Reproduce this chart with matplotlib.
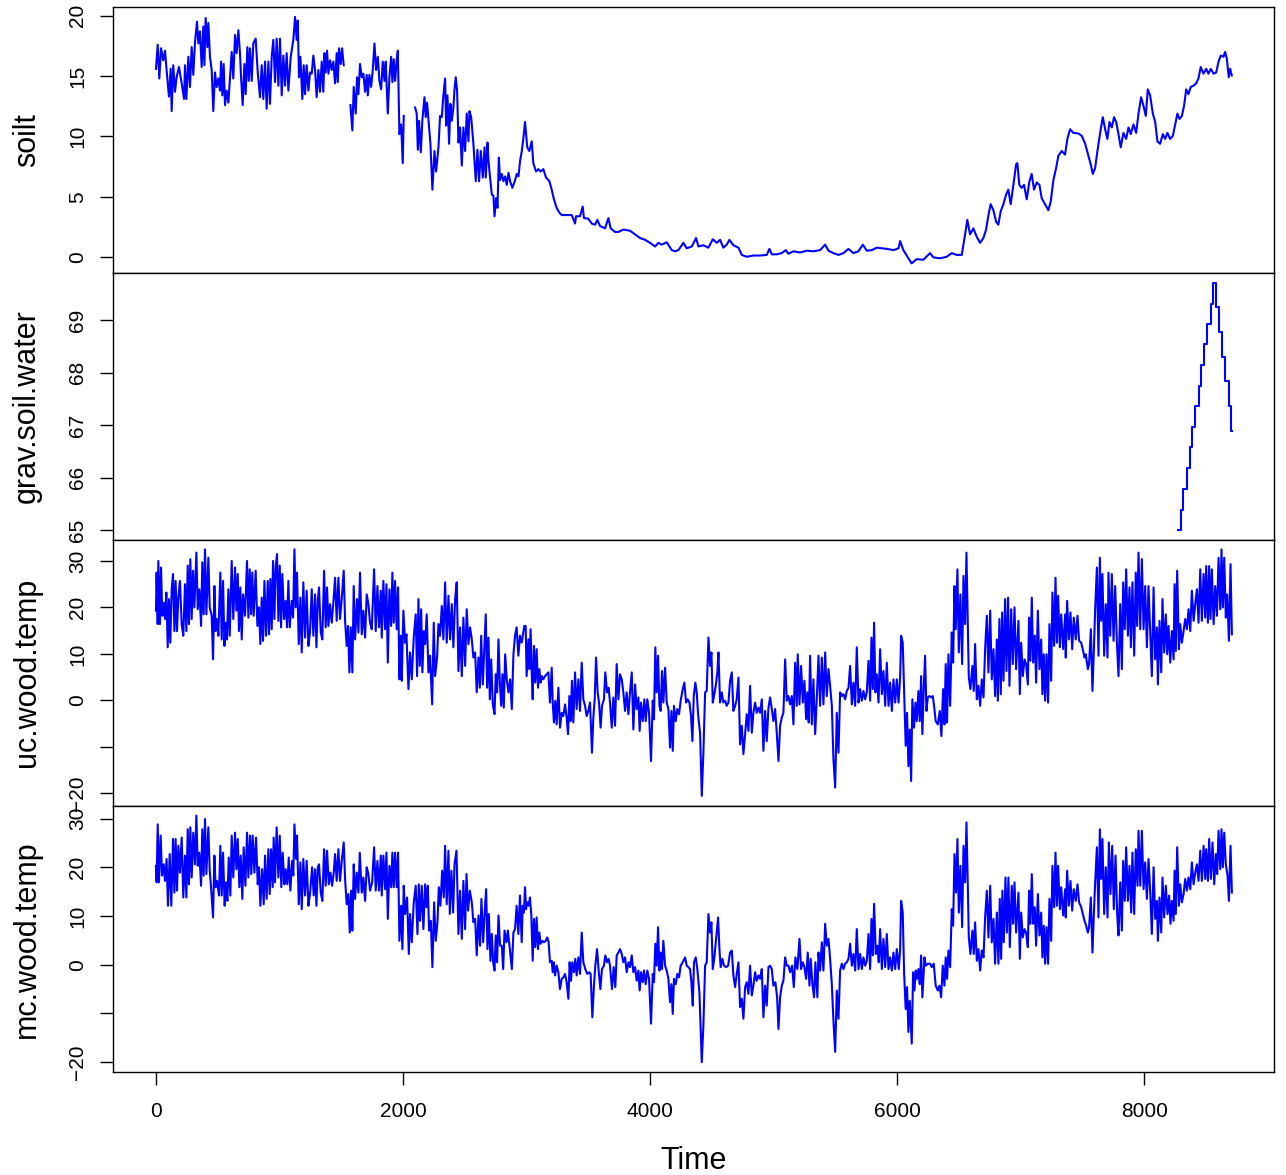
import numpy as np
import matplotlib
matplotlib.use("Agg")
import matplotlib.pyplot as plt

plt.rcParams["font.family"] = ["Liberation Sans", "DejaVu Sans"]

NA = np.nan

# ---------------------------------------------------------------------------
# Dados: (hora, valor)
# ---------------------------------------------------------------------------

soilt = [
    (0, 15.6), (14, 17.6), (27, 14.8), (41, 17.3), (59, 16.3), (73, 17.1), (86, 15.5), (105, 13.3),
    (119, 15.6), (127, 12.1), (140, 15.9), (154, 13.7), (167, 14.9), (186, 15.75), (208, 14.4),
    (227, 13.1), (235, 15.9), (246, 13.1), (262, 16.6), (275, 14.1), (289, 17.4), (302, 15.1),
    (316, 17.8), (332, 19.5), (343, 17.7), (356, 18.7), (370, 15.75), (383, 19.1), (392, 15.9),
    (402, 19.8), (416, 17.4), (424, 19.4), (437, 16.6), (451, 15.5), (464, 12.1), (478, 15.3),
    (491, 14.1), (505, 14.8), (518, 13.8), (527, 16.2), (537, 13.4), (548, 16.0), (559, 12.6),
    (572, 13.8), (586, 12.8), (599, 14.8), (613, 17.0), (626, 14.8), (640, 18.4), (653, 16.9),
    (667, 18.8), (680, 16.9), (689, 14.9), (702, 12.6), (716, 16.0), (726, 13.5), (740, 17.4),
    (751, 14.6), (761, 17.3), (775, 14.6), (788, 17.7), (807, 18.1), (824, 15.3), (842, 13.25),
    (856, 15.9), (869, 13.1), (883, 16.2), (896, 12.3), (910, 16.2), (923, 12.7), (937, 16.6),
    (950, 18.0), (964, 14.5), (977, 18.1), (991, 14.2), (1004, 18.1), (1018, 13.4), (1031, 16.7),
    (1045, 14.2), (1058, 16.9), (1072, 13.8), (1091, 16.6), (1112, 18.0), (1126, 19.9), (1139, 18.0),
    (1148, 19.6), (1158, 14.9), (1169, 16.6), (1185, 13.1), (1196, 15.9), (1207, 13.5), (1220, 15.9),
    (1234, 13.8), (1247, 15.3), (1261, 15.2), (1274, 16.7), (1288, 15.5), (1301, 13.25), (1315, 15.5),
    (1328, 13.7), (1342, 16.2), (1355, 13.7), (1364, 16.9), (1374, 15.3), (1385, 17.1), (1396, 15.2),
    (1409, 16.3), (1423, 15.5), (1436, 16.2), (1450, 14.4), (1463, 16.9), (1472, 14.5), (1482, 17.3),
    (1496, 16.0), (1507, 17.3), (1520, 15.9),
    (1547, NA),
    (1574, 12.6), (1590, 10.5), (1601, 14.1), (1617, 11.9), (1628, 14.9), (1639, 13.5), (1652, 16.0),
    (1666, 14.9), (1679, 15.2), (1693, 13.7), (1706, 15.1), (1715, 13.4), (1728, 15.1), (1742, 14.1),
    (1755, 15.5), (1769, 17.7), (1782, 15.5), (1796, 16.6), (1809, 14.6), (1823, 13.9), (1836, 16.2),
    (1850, 14.6), (1860, 16.2), (1877, 11.9), (1890, 14.9), (1904, 16.6), (1914, 14.5), (1925, 16.4),
    (1936, 14.6), (1949, 16.3), (1958, 17.1), (1971, 10.2), (1985, 11.0), (1998, 7.8), (2006, 11.7),
    (2050, NA),
    (2098, 12.4), (2111, 11.9), (2120, 8.9), (2130, 11.3), (2144, 8.7), (2157, 11.4), (2174, 13.25),
    (2184, 11.6), (2195, 12.8), (2206, 11.4), (2222, 9.4), (2238, 5.6), (2255, 8.8), (2268, 7.1),
    (2287, 9.1), (2300, 11.7), (2314, 11.6), (2327, 13.4), (2341, 14.8), (2349, 10.9), (2360, 13.4),
    (2373, 9.4), (2384, 12.7), (2395, 11.3), (2408, 12.4), (2417, 13.9), (2427, 14.9), (2438, 13.8),
    (2449, 9.5), (2462, 10.75), (2476, 7.6), (2489, 10.75), (2503, 8.8), (2516, 11.9), (2530, 9.6),
    (2538, 12.1), (2552, 11.6), (2570, 9.4), (2589, 6.3), (2603, 8.9), (2616, 6.3), (2630, 8.8),
    (2646, 6.6), (2660, 9.1), (2670, 6.6), (2684, 9.5), (2692, 8.0), (2705, 6.6), (2719, 5.2),
    (2732, 5.1), (2741, 3.4), (2754, 4.9), (2765, 4.1), (2776, 8.25), (2786, 6.4), (2800, 6.9),
    (2813, 6.3), (2827, 6.7), (2840, 6.0), (2854, 7.0), (2867, 6.3), (2886, 5.75), (2908, 6.4),
    (2921, 6.9), (2935, 6.7), (2948, 8.0), (2962, 8.8), (2975, 9.9),
    (2988, 11.2), (3006, 9.1), (3023, 8.8), (3042, 9.6), (3055, 7.8), (3077, 7.1), (3096, 7.3),
    (3114, 7.1), (3136, 7.3), (3158, 6.6), (3185, 6.3), (3204, 5.6), (3222, 4.8), (3244, 4.1),
    (3266, 3.7), (3285, 3.5), (3325, 3.5), (3366, 3.5), (3393, 2.8), (3401, 3.4), (3433, 3.4),
    (3455, 4.2), (3465, 3.25), (3500, 3.2), (3528, 2.8), (3555, 2.7), (3573, 3.1), (3595, 2.6),
    (3636, 2.4), (3663, 3.25), (3681, 2.4), (3717, 2.1), (3744, 2.1), (3784, 2.3), (3838, 2.2),
    (3879, 1.9), (3919, 1.6), (3960, 1.45), (4000, 1.2), (4041, 0.9), (4068, 1.2), (4095, 1.05),
    (4135, 1.25), (4176, 0.6), (4203, 0.5), (4230, 0.6), (4270, 1.2), (4297, 0.75), (4338, 0.9),
    (4373, 1.6), (4392, 0.9), (4432, 1.0), (4473, 0.8), (4508, 1.5), (4540, 1.2), (4567, 1.45),
    (4594, 0.8), (4621, 1.05), (4643, 1.45), (4675, 1.0), (4716, 0.8), (4743, 0.2), (4783, 0.05),
    (4837, 0.15), (4891, 0.15), (4945, 0.2), (4967, 0.7), (4986, 0.25), (5026, 0.25), (5066, 0.35),
    (5099, 0.6), (5120, 0.3), (5161, 0.5), (5215, 0.4), (5269, 0.55), (5323, 0.5), (5377, 0.6),
    (5418, 1.05), (5445, 0.55), (5485, 0.35), (5526, 0.2), (5566, 0.35), (5606, 0.7), (5647, 0.35),
    (5687, 0.5), (5723, 1.05), (5755, 0.55), (5796, 0.6), (5836, 0.8), (5877, 0.75), (5917, 0.7),
    (5971, 0.6), (6012, 0.75), (6025, 1.35),
    (6051, 0.6), (6092, -0.08), (6118, -0.5), (6159, -0.15), (6213, -0.2), (6267, 0.35), (6294, 0.0),
    (6348, -0.08), (6402, 0.05), (6443, 0.35), (6483, 0.2), (6524, 0.2), (6551, 1.9), (6569, 3.1),
    (6591, 1.9), (6618, 2.4), (6645, 1.7), (6672, 1.2), (6699, 1.6), (6721, 2.3), (6740, 3.5),
    (6758, 4.4), (6780, 3.9), (6802, 2.95), (6820, 2.7), (6839, 3.8), (6861, 4.4), (6883, 5.2),
    (6901, 5.6), (6920, 4.4), (6942, 6.0), (6964, 7.7), (6974, 7.8), (6990, 6.0), (7009, 5.75),
    (7028, 6.0), (7050, 4.8), (7072, 6.3), (7090, 6.9), (7109, 5.6), (7131, 6.2), (7153, 6.0),
    (7171, 4.9), (7198, 4.4), (7225, 3.9), (7244, 4.6), (7266, 6.4), (7288, 7.4), (7306, 8.4),
    (7333, 8.8), (7360, 8.5), (7379, 9.8), (7401, 10.6), (7428, 10.3), (7468, 10.25), (7496, 10.05),
    (7523, 9.4), (7550, 8.4), (7568, 7.7), (7585, 6.9), (7604, 7.4), (7617, 8.4), (7631, 9.4),
    (7649, 10.6), (7666, 11.6), (7685, 10.6), (7703, 9.8), (7720, 11.2), (7739, 10.75), (7757, 11.6),
    (7774, 11.2), (7793, 10.2), (7811, 9.1), (7833, 10.3), (7855, 9.8), (7874, 10.75), (7892, 10.2),
    (7914, 11.0), (7936, 10.3), (7955, 11.9), (7976, 13.25), (7995, 12.55), (8014, 11.7), (8030, 13.9),
    (8049, 13.4), (8071, 11.9), (8090, 11.2), (8108, 9.6), (8130, 9.4), (8152, 10.2), (8171, 9.8),
    (8189, 10.3), (8211, 9.8), (8233, 10.05), (8252, 11.0), (8270, 11.9), (8287, 11.45), (8306, 11.7),
    (8324, 12.55), (8341, 13.9), (8359, 13.5), (8378, 14.1), (8400, 14.2), (8422, 14.4), (8440, 14.8),
    (8459, 15.75), (8481, 15.2), (8503, 15.6), (8521, 15.2), (8540, 15.6), (8562, 15.2), (8584, 15.3),
    (8603, 16.2), (8621, 16.7), (8643, 16.6), (8656, 17.0), (8670, 16.45), (8686, 14.9), (8697, 15.6),
    (8710, 15.05),
]

# água gravimétrica: só medida no fim (degraus diários)
grav_time = [8278, 8297, 8319, 8346, 8368, 8392, 8416, 8441, 8465, 8486, 8513, 8538, 8557,
             8584, 8608, 8632, 8657, 8684, 8705, 8711]
grav_value = [65.01, 65.39, 65.79, 66.18, 66.59, 66.97, 67.36, 67.74, 68.14, 68.55, 68.93, 69.32,
              69.71, 69.26, 68.77, 68.30, 67.84, 67.36, 66.89, 66.89]

uc_wood = [
    (0, 19.3), (5, 27.5), (14, 16.4), (19, 30.0), (32, 16.4), (41, 28.6), (51, 18.2), (62, 21.0),
    (73, 17.5), (84, 23.2), (95, 11.4), (105, 21.8), (116, 12.4), (127, 23.9), (138, 27.2), (149, 14.9),
    (159, 25.7), (170, 14.9), (181, 22.1), (194, 25.7), (208, 16.4), (221, 13.9), (235, 25.0), (246, 14.9),
    (257, 29.0), (267, 16.4), (278, 30.4), (289, 17.5), (300, 27.9), (311, 20.0), (327, 31.8), (338, 19.6),
    (351, 23.9), (365, 16.0), (375, 29.7), (386, 18.5), (397, 32.5), (408, 18.5), (424, 30.7), (435, 20.0),
    (451, 18.2), (462, 8.8), (473, 24.6), (483, 14.9), (494, 17.5), (505, 13.9), (521, 27.5), (532, 13.1),
    (543, 25.7), (554, 11.7), (564, 16.7), (575, 13.1), (586, 23.9), (597, 13.9), (613, 30.0), (626, 17.5),
    (640, 28.6), (651, 19.3), (662, 27.2), (672, 14.9), (683, 24.3), (694, 13.1), (705, 22.8), (721, 18.2),
    (737, 30.0), (748, 17.8), (759, 28.2), (770, 18.5), (780, 27.5), (791, 18.2), (807, 27.9), (821, 16.0),
    (834, 20.0), (845, 12.1), (856, 22.1), (867, 12.8), (878, 25.7), (891, 13.9), (905, 25.7), (915, 14.2),
    (926, 26.1), (937, 15.3), (948, 30.0), (959, 17.5), (969, 28.6), (980, 31.5), (991, 17.1), (1002, 29.0),
    (1013, 15.7), (1023, 27.2), (1037, 17.5), (1050, 21.4), (1061, 15.7), (1072, 25.7), (1083, 15.7),
    (1099, 21.4), (1110, 17.8), (1121, 32.5), (1131, 20.0), (1142, 27.5), (1156, 12.1), (1169, 22.1),
    (1180, 10.3), (1193, 25.4), (1207, 13.5), (1220, 23.6), (1234, 11.7), (1247, 14.6), (1261, 23.9),
    (1274, 13.9), (1288, 22.8), (1299, 11.4), (1310, 21.4), (1320, 24.3), (1334, 14.6), (1347, 13.1),
    (1361, 27.9), (1374, 15.7), (1385, 24.3), (1396, 16.0), (1409, 20.7), (1423, 16.7), (1436, 21.0),
    (1450, 26.4), (1463, 17.1), (1477, 26.4), (1490, 17.5), (1504, 21.8), (1520, 27.9), (1531, 17.1),
    (1544, 11.7), (1555, 16.0), (1566, 6.0), (1577, 15.7), (1590, 6.0), (1601, 24.6), (1612, 13.1),
    (1628, 21.8), (1639, 14.6), (1652, 27.5), (1666, 14.2), (1679, 19.3), (1693, 13.5), (1706, 22.8),
    (1720, 20.7), (1733, 16.7), (1747, 15.3), (1766, 28.2), (1779, 14.9), (1793, 24.6), (1806, 15.7),
    (1820, 23.6), (1828, 13.5), (1841, 25.7), (1855, 15.3), (1866, 25.0), (1877, 8.1), (1890, 23.9),
    (1904, 16.0), (1914, 27.5), (1925, 16.7), (1936, 25.7), (1949, 15.3), (1960, 24.3), (1971, 4.5),
    (1982, 13.9), (1990, 4.2), (2003, 19.3), (2017, 12.4), (2028, 14.2), (2044, 2.4), (2057, 10.3),
    (2071, 4.5), (2087, 13.5), (2103, 18.5), (2114, 5.2), (2125, 21.8), (2136, 7.4), (2147, 19.6),
    (2157, 6.0), (2168, 14.9), (2179, 12.1), (2192, 18.5), (2206, 6.0), (2219, 9.6), (2236, -0.9),
    (2249, 16.7), (2260, 5.2), (2276, 9.2), (2287, 16.4), (2300, 13.9), (2314, 20.3), (2327, 13.1),
    (2341, 25.4), (2354, 12.4), (2368, 22.5), (2381, 13.1), (2395, 20.7), (2408, 11.4), (2422, 21.8),
    (2435, 25.4), (2449, 6.3), (2462, 15.7), (2476, 5.2), (2489, 17.8), (2503, 7.4), (2516, 19.6),
    (2530, 12.1), (2543, 15.7), (2557, 13.1), (2570, 9.2), (2584, 10.3), (2597, 1.7), (2611, 9.2),
    (2622, 2.7), (2633, 13.9), (2646, 3.4), (2657, 10.3), (2670, 18.5), (2681, 2.7), (2692, 13.5),
    (2703, 0.2), (2714, 8.8), (2727, -0.9), (2741, -3.0), (2751, 5.6), (2762, 1.7), (2773, 13.1),
    (2784, 3.8), (2795, -1.2), (2805, 5.6), (2816, -1.6), (2827, 9.9), (2840, 4.5), (2854, 1.7),
    (2867, 4.5), (2881, -1.9), (2894, 9.9),
    (2907, 13.9), (2920, 15.7), (2934, 9.6), (2947, 13.9), (2961, 12.4), (2974, 14.6), (2982, 16.0),
    (2993, 16.0), (3001, 5.2), (3015, 13.1), (3023, 6.7), (3033, 15.3), (3042, 6.0), (3050, 0.2),
    (3060, 11.7), (3071, 3.8), (3082, 11.0), (3093, 2.7), (3104, 6.7), (3114, 3.8), (3125, 5.2),
    (3136, 4.5), (3150, 5.2), (3163, 5.6), (3177, 6.0), (3190, -0.5), (3204, 7.0), (3212, -0.5),
    (3222, -4.8), (3233, -0.1), (3244, -5.2), (3258, 2.7), (3271, -5.9), (3285, -2.7), (3298, -3.4),
    (3312, -0.9), (3325, -3.7), (3336, -7.3), (3347, 0.9), (3357, -4.5), (3368, 4.2), (3379, -4.8),
    (3393, 6.0), (3406, -1.9), (3420, 4.5), (3433, -2.3), (3447, 8.1), (3460, 0.2), (3474, -1.2),
    (3487, -3.4), (3501, -2.3), (3514, -0.5), (3530, -11.3), (3541, -3.7), (3552, 0.2), (3563, 9.2),
    (3576, 1.7), (3587, -0.5), (3600, -5.9), (3611, -1.2), (3627, 0.2), (3638, 6.0), (3652, 1.7),
    (3665, 2.7), (3676, -0.5), (3690, -5.9), (3703, 0.6), (3717, -5.5), (3730, 7.8), (3744, 0.2),
    (3757, 5.6), (3771, 4.5), (3784, 1.7), (3798, -2.3), (3811, 1.7), (3825, -3.0), (3838, 1.7),
    (3852, 6.0), (3865, -6.3), (3879, 3.4), (3892, -1.9), (3906, 0.6), (3916, -6.6), (3927, -0.5),
    (3941, -4.5), (3954, 0.2), (3965, -4.5), (3978, 0.2), (3992, -2.7), (4008, -13.1), (4022, -0.1),
    (4032, -4.1), (4043, 11.4), (4054, 1.7), (4065, 9.6), (4076, -1.2), (4086, -2.3), (4097, 6.3),
    (4108, -0.5), (4122, 7.0), (4135, -0.5), (4149, -1.9), (4162, -10.2), (4173, -2.3), (4184, -10.9),
    (4194, -1.2), (4208, -4.5), (4221, -1.9), (4235, -3.0), (4248, -0.1), (4265, 2.4), (4278, 3.8),
    (4292, -0.5), (4305, 0.2), (4319, -0.5), (4332, -3.4), (4343, -8.8), (4354, 0.9), (4367, 3.8),
    (4378, 1.7), (4389, -3.0), (4405, -7.0), (4419, -20.6), (4432, -11.3), (4446, 1.7), (4459, 2.0),
    (4473, 13.5), (4486, 7.4), (4497, 10.3), (4508, -0.5), (4518, 0.9), (4532, 3.1), (4545, 6.0),
    (4554, 10.3), (4567, -0.5), (4581, 1.7), (4594, -0.5), (4608, -0.1), (4621, -1.2), (4635, -0.5),
    (4648, 4.2), (4662, 6.0), (4675, -2.3), (4689, -1.2), (4702, 0.2), (4716, 4.9), (4729, -9.5),
    (4743, -5.5), (4756, -11.6), (4770, -7.3), (4783, -3.0), (4797, -6.6), (4810, 3.1), (4824, -7.0),
    (4837, -2.7), (4851, -0.5), (4864, -2.7), (4878, -1.6), (4891, -2.7), (4905, 0.2), (4918, -10.9),
    (4932, -2.3), (4945, -8.8), (4959, -1.6), (4972, 0.6), (4986, -1.9), (4999, -4.5), (5013, -1.9),
    (5026, -7.0), (5040, -13.1), (5053, -5.5), (5067, -3.7), (5080, -2.7), (5094, 8.8), (5107, -0.1),
    (5121, 0.9), (5134, -0.9), (5148, 0.9), (5161, -5.2), (5175, 8.1), (5188, -1.2), (5196, 9.9),
    (5210, -0.9), (5223, 7.4), (5237, -0.5), (5250, 4.2), (5264, -4.1), (5274, 1.7), (5285, -4.8),
    (5296, 9.6), (5310, -5.2), (5323, 4.5), (5337, -7.3), (5350, 0.2), (5364, 9.6), (5377, -1.2),
    (5391, 9.2), (5404, -0.9), (5418, 10.3), (5431, 0.9), (5445, 6.7), (5458, 3.1), (5472, -1.2),
    (5485, -12.7), (5499, -18.8), (5512, -2.7), (5526, -11.3), (5539, 1.7), (5553, 0.9), (5566, 1.3),
    (5580, 0.2), (5593, 2.0), (5607, 2.7), (5620, 7.4), (5634, -0.9), (5647, 3.8), (5661, -1.2),
    (5674, 11.4), (5688, -0.5), (5701, 2.4), (5715, -0.1), (5728, 2.0), (5742, 0.2), (5755, 1.7),
    (5769, 8.5), (5782, -0.1), (5793, 13.5), (5804, 2.4), (5814, 16.7), (5825, 1.7), (5836, 5.6),
    (5850, -0.5), (5863, 11.0), (5877, 1.3), (5890, 6.3), (5904, -1.2), (5917, 8.1), (5931, -1.2),
    (5944, 3.8), (5958, -2.3), (5971, 4.5), (5985, -0.5), (5998, 4.5), (6012, -0.5), (6025, 4.9),
    (6033, 13.9), (6046, 12.4), (6057, 2.4), (6070, -9.8), (6081, -2.7), (6092, -14.2), (6103, -6.3),
    (6114, -17.4), (6124, 0.2), (6138, -5.9), (6149, -0.5), (6160, -4.5), (6173, 2.0), (6184, -4.5),
    (6195, 5.2), (6205, -7.3), (6216, 2.4), (6227, 9.6), (6238, -2.3), (6249, 0.6), (6262, 0.9),
    (6276, 0.6), (6289, 0.9), (6300, -1.2), (6313, -4.5), (6330, -5.2), (6346, -2.3), (6359, -7.7),
    (6373, 2.4), (6384, -5.2), (6394, 7.8), (6405, -4.8), (6416, 9.9), (6430, -1.2), (6443, 14.6),
    (6454, 8.1), (6465, 24.6), (6475, 15.3), (6489, 28.2), (6500, 10.3), (6513, 22.8), (6527, 7.8),
    (6538, 26.8), (6551, 16.4), (6562, 31.8), (6573, 16.7), (6581, 4.9), (6594, 2.4), (6610, 7.4),
    (6621, 2.0), (6632, 12.1), (6646, 0.2), (6659, 3.1), (6673, -1.2), (6686, 4.5), (6700, 0.6),
    (6713, 11.0), (6727, 18.2), (6740, 6.0), (6754, 19.3), (6767, 4.5), (6781, 11.0), (6794, 0.9),
    (6808, 13.1), (6816, -0.1), (6829, 17.5), (6840, 1.3), (6851, 18.9), (6862, 4.2), (6875, 21.8),
    (6886, 6.3), (6899, 22.1), (6910, 3.1), (6924, 19.6), (6937, 7.8), (6951, 20.0), (6964, 6.7),
    (6983, 17.1), (6994, 1.3), (7005, 12.4), (7018, 5.2), (7032, 8.8), (7045, 7.8), (7059, 3.4),
    (7069, 17.8), (7080, 8.5), (7091, 22.1), (7102, 8.1), (7115, 13.9), (7126, 3.8), (7140, 19.3),
    (7153, 6.7), (7167, 13.1), (7177, 1.3), (7188, 9.9), (7199, -0.1), (7210, 9.9), (7223, -0.5),
    (7234, 16.4), (7248, 4.2), (7258, 23.2), (7272, 11.7), (7283, 26.4), (7294, 12.4), (7304, 22.5),
    (7318, 11.4), (7329, 18.5), (7345, 11.0), (7361, 18.5), (7366, 9.2), (7377, 21.4), (7391, 13.1),
    (7404, 18.9), (7418, 11.0), (7431, 17.8), (7447, 13.1), (7461, 18.2), (7474, 12.8), (7491, 12.4),
    (7507, 10.6), (7518, 9.2), (7528, 9.9), (7545, 6.7), (7555, 7.8), (7569, 15.3), (7582, 2.0),
    (7593, 10.3), (7604, 19.6), (7618, 28.6), (7631, 9.6), (7642, 30.7), (7653, 17.1), (7663, 27.2),
    (7677, 9.6), (7690, 20.7), (7704, 9.2), (7712, 27.5), (7726, 13.9), (7739, 27.2), (7753, 12.8),
    (7766, 24.6), (7780, 12.4), (7793, 5.2), (7807, 20.7), (7820, 6.7), (7831, 25.4), (7844, 15.3),
    (7855, 28.2), (7869, 13.9), (7882, 24.3), (7893, 11.4), (7906, 25.4), (7920, 9.6), (7933, 27.5),
    (7944, 16.0), (7955, 31.8), (7969, 15.3), (7982, 30.4), (7996, 15.3), (8009, 24.6), (8023, 11.4),
    (8036, 24.6), (8050, 14.6), (8063, 5.2), (8077, 24.3), (8090, 8.8), (8104, 15.7), (8112, 3.4),
    (8125, 17.1), (8139, 6.0), (8149, 21.8), (8163, 10.3), (8176, 18.5), (8187, 9.9), (8198, 16.0),
    (8212, 8.1), (8225, 14.9), (8239, 8.8), (8247, 25.0), (8257, 10.6), (8268, 27.9), (8282, 11.0),
    (8293, 16.4), (8306, 12.4), (8320, 14.9), (8333, 17.5), (8347, 15.3), (8360, 19.6), (8374, 14.9),
    (8387, 23.6), (8401, 17.1), (8414, 20.7), (8428, 23.9), (8441, 16.7), (8455, 28.2), (8468, 17.1),
    (8482, 27.2), (8495, 17.8), (8503, 28.9), (8517, 16.7), (8527, 28.9), (8538, 17.5), (8549, 28.2),
    (8563, 16.4), (8576, 24.6), (8590, 18.2), (8603, 30.7), (8617, 19.6), (8627, 32.5), (8638, 20.0),
    (8649, 30.7), (8662, 17.8), (8673, 22.8), (8687, 12.8), (8700, 29.3), (8711, 14.2),
]

mc_wood = [
    (0, 20.3), (5, 16.9), (14, 28.8), (24, 16.9), (38, 26.5), (49, 18.3), (62, 20.6), (73, 17.2),
    (86, 21.7), (97, 12.1), (111, 22.7), (124, 12.1), (138, 25.8), (149, 14.8), (159, 25.8), (170, 15.2),
    (181, 24.4), (194, 18.9), (208, 26.1), (221, 13.8), (235, 22.4), (246, 13.8), (257, 27.8), (267, 16.5),
    (278, 28.2), (289, 17.9), (302, 27.1), (316, 20.6), (327, 30.6), (338, 20.3), (351, 23.0), (365, 16.2),
    (375, 27.8), (386, 18.3), (397, 29.9), (408, 18.6), (424, 28.2), (435, 19.3), (446, 15.9), (462, 9.7),
    (473, 22.4), (483, 15.9), (494, 17.2), (510, 14.2), (521, 24.4), (532, 14.2), (543, 23.0), (556, 12.1),
    (567, 16.9), (578, 13.1), (589, 22.0), (602, 14.2), (613, 26.5), (626, 17.9), (640, 27.1), (651, 19.6),
    (662, 25.8), (675, 15.9), (686, 22.4), (699, 13.5), (710, 24.1), (724, 16.2), (737, 27.1), (748, 17.9),
    (761, 26.5), (772, 18.6), (783, 26.5), (797, 18.9), (810, 26.1), (824, 16.5), (834, 20.0), (845, 12.1),
    (859, 19.6), (872, 12.4), (883, 22.4), (896, 13.5), (910, 23.7), (921, 14.5), (932, 23.7), (945, 15.9),
    (953, 26.1), (964, 16.9), (977, 28.2), (991, 17.9), (1002, 26.5), (1015, 15.9), (1026, 23.0),
    (1040, 16.5), (1050, 19.6), (1064, 16.5), (1075, 22.0), (1088, 15.2), (1102, 21.3), (1112, 18.3),
    (1121, 28.8), (1134, 21.7), (1142, 26.5), (1156, 12.4), (1169, 21.0), (1180, 11.4), (1193, 21.7),
    (1207, 14.2), (1220, 21.3), (1234, 12.1), (1247, 14.5), (1264, 20.0), (1277, 14.2), (1288, 19.6),
    (1299, 12.1), (1310, 20.0), (1320, 20.6), (1334, 14.8), (1347, 13.1), (1361, 23.7), (1374, 16.2),
    (1385, 23.4), (1399, 16.5), (1412, 18.9), (1426, 16.2), (1439, 18.9), (1450, 22.7), (1463, 17.2),
    (1477, 23.7), (1490, 17.2), (1504, 21.3), (1520, 25.1), (1531, 17.6), (1544, 12.4), (1558, 14.5),
    (1569, 6.6), (1580, 15.2), (1590, 7.0), (1601, 20.6), (1612, 13.5), (1625, 18.9), (1639, 14.8),
    (1650, 23.0), (1666, 14.8), (1679, 17.9), (1693, 13.1), (1706, 20.0), (1720, 18.6), (1733, 15.2),
    (1750, 16.9), (1766, 24.1), (1779, 15.2), (1793, 21.3), (1806, 15.2), (1820, 22.4), (1828, 14.2),
    (1841, 22.4), (1855, 15.5), (1866, 23.0), (1877, 9.4), (1890, 20.3), (1904, 15.9), (1914, 23.0),
    (1925, 15.9), (1936, 23.0), (1949, 15.9), (1960, 23.0), (1971, 4.9), (1985, 12.1), (1995, 3.2),
    (2006, 16.2), (2017, 10.4), (2033, 13.8), (2047, 2.2), (2057, 10.4), (2071, 4.6), (2087, 12.8),
    (2103, 16.2), (2117, 6.3), (2128, 16.5), (2138, 9.0), (2152, 16.2), (2165, 7.3), (2179, 16.5),
    (2190, 11.8), (2201, 16.2), (2211, 7.0), (2225, 9.0), (2238, -0.5), (2252, 12.8), (2265, 4.9),
    (2279, 8.7), (2290, 15.9), (2303, 12.1), (2317, 19.3), (2330, 13.8), (2341, 24.4), (2354, 12.4),
    (2368, 23.4), (2379, 10.4), (2392, 19.3), (2406, 10.7), (2417, 20.6), (2433, 23.4), (2449, 6.3),
    (2462, 15.2), (2476, 5.3), (2489, 17.2), (2503, 7.3), (2514, 18.6), (2527, 11.1), (2541, 15.2),
    (2557, 12.8), (2570, 8.7), (2584, 9.4), (2597, 1.9), (2611, 10.1), (2624, 3.9), (2635, 13.5),
    (2649, 4.6), (2660, 10.1), (2673, 15.5), (2684, 3.2), (2695, 10.4), (2708, 0.8), (2719, 6.3),
    (2730, 0.5), (2741, -1.2), (2751, 6.0), (2762, 0.5), (2773, 10.1), (2786, 3.9), (2800, 3.9),
    (2811, -0.9), (2822, 7.0), (2838, 4.6), (2849, 7.0), (2865, 3.2), (2881, -0.9), (2894, 6.6),
    (2907, 7.3), (2920, 12.1), (2934, 6.3), (2947, 14.2), (2961, 4.6), (2969, 12.1), (2979, 10.7),
    (2988, 15.9), (2996, 11.4), (3006, 12.8), (3017, 12.1), (3028, 13.8), (3039, 10.1), (3050, 0.8),
    (3060, 9.4), (3071, 3.6), (3082, 9.7), (3093, 3.2), (3104, 6.6), (3114, 4.3), (3128, 4.9),
    (3141, 4.6), (3155, 4.9), (3168, 5.6), (3179, 4.6), (3190, 0.5), (3204, 0.8), (3212, -1.55),
    (3222, 0.5), (3231, -2.2), (3244, -0.2), (3258, -1.55), (3271, -5.0), (3285, -2.9), (3298, -2.6),
    (3312, -1.9), (3325, -3.6), (3339, -7.0), (3349, 0.5), (3360, -3.3), (3371, 0.5), (3384, -1.55),
    (3395, 1.2), (3406, -2.2), (3420, 1.5), (3433, -1.9), (3447, 6.6), (3460, 0.5), (3476, -0.9),
    (3492, -1.9), (3509, -1.55), (3519, -1.9), (3533, -10.8), (3546, -4.3), (3557, -0.2), (3571, 3.2),
    (3584, -1.2), (3598, -5.0), (3611, -0.9), (3627, -0.2), (3638, 1.9), (3652, 0.5), (3665, 1.2),
    (3676, -0.2), (3692, -5.0), (3706, -0.5), (3719, -4.6), (3730, 1.9), (3744, 2.5), (3757, 3.2),
    (3771, 2.2), (3784, 0.5), (3798, 1.5), (3811, -1.55), (3825, 0.5), (3838, -0.5), (3852, 1.9),
    (3865, -1.55), (3879, -0.5), (3892, -3.3), (3906, -1.2), (3916, -5.3), (3927, -1.55), (3941, -3.6),
    (3951, -1.2), (3965, -4.0), (3978, -1.2), (3992, -2.9), (4008, -12.1), (4022, -1.9), (4032, -3.6),
    (4043, 4.3), (4054, -0.2), (4065, 7.7), (4076, -1.2), (4086, 2.5), (4097, -0.9), (4108, 4.9),
    (4122, -0.2), (4135, -1.2), (4149, -2.9), (4162, -7.7), (4173, -4.0), (4184, -10.1), (4194, -2.9),
    (4208, -4.0), (4221, -1.9), (4235, -2.6), (4248, -0.2), (4265, 0.5), (4284, 1.5), (4297, -0.2),
    (4311, -0.5), (4324, -0.9), (4335, -3.6), (4346, -8.4), (4356, 0.5), (4370, 1.5), (4383, -0.9),
    (4400, -5.7), (4419, -20.0), (4432, -12.5), (4446, -0.2), (4459, 0.5), (4473, 10.4), (4486, 6.6),
    (4497, 8.7), (4508, -0.9), (4521, 1.5), (4535, 5.3), (4551, 9.7), (4562, 3.2), (4572, -0.5),
    (4586, 1.2), (4599, -0.2), (4616, -0.5), (4632, -0.2), (4648, 2.5), (4662, 2.9), (4675, -2.2),
    (4689, -4.6), (4702, -1.9), (4716, 0.5), (4729, -8.7), (4743, -7.0), (4756, -11.1), (4770, -4.6),
    (4783, -3.6), (4797, -6.0), (4810, -0.2), (4824, -6.3), (4837, -4.3), (4851, -1.55), (4864, -3.3),
    (4878, -2.2), (4891, -2.9), (4905, -0.9), (4918, -10.8), (4932, -4.3), (4945, -8.4), (4959, -0.5),
    (4972, -0.2), (4986, -0.9), (4999, -4.3), (5015, -3.6), (5029, -6.7), (5040, -13.2), (5053, -6.7),
    (5067, -4.3), (5080, -3.3), (5094, 1.5), (5107, -0.2), (5121, -0.2), (5134, -1.55), (5150, -0.2),
    (5164, -4.6), (5177, 1.5), (5193, -0.9), (5210, 5.3), (5223, -0.9), (5237, 0.5), (5250, -0.5),
    (5264, -2.9), (5277, 2.5), (5291, -4.3), (5301, 1.2), (5315, -4.0), (5328, -6.7), (5339, 0.5),
    (5355, -6.7), (5364, 2.5), (5377, -1.2), (5391, 4.6), (5404, -1.2), (5418, 8.4), (5431, 3.9),
    (5445, 5.3), (5458, 1.2), (5472, -4.0), (5485, -11.5), (5499, -17.9), (5512, -5.3), (5526, -11.1),
    (5539, -1.2), (5553, 0.2), (5566, -0.9), (5580, 0.2), (5593, 0.5), (5607, 1.2), (5620, 4.3),
    (5634, -0.2), (5647, 2.2), (5661, -1.2), (5674, 7.3), (5688, -0.9), (5701, 2.2), (5715, -0.9),
    (5728, 1.5), (5742, -0.2), (5755, 0.8), (5769, 6.3), (5782, -0.9), (5793, 9.4), (5804, 1.9),
    (5814, 12.5), (5828, 2.2), (5841, 3.9), (5852, 0.5), (5863, 7.3), (5877, -0.9), (5890, 5.3),
    (5904, -0.5), (5917, 6.3), (5931, -0.9), (5944, 1.5), (5958, -1.2), (5971, 2.5), (5985, -0.9),
    (5998, 3.2), (6014, -0.9), (6025, 3.2),
    (6033, 13.1), (6046, 10.7), (6057, -1.55), (6070, -9.1), (6081, -4.6), (6092, -13.8), (6103, -7.4),
    (6119, -16.2), (6130, -1.55), (6141, -5.3), (6151, -1.2), (6162, -2.9), (6173, -0.9), (6184, -4.0),
    (6195, 1.9), (6205, -6.7), (6222, 1.5), (6232, -0.2), (6249, 0.2), (6268, 0.2), (6281, -0.5),
    (6297, 0.2), (6313, -4.3), (6330, -5.3), (6343, -4.3), (6357, -6.7), (6370, -0.2), (6384, -4.3),
    (6394, 1.5), (6405, -2.9), (6416, 2.9), (6430, -0.5), (6443, 11.4), (6454, 8.0), (6465, 22.7),
    (6478, 14.8), (6489, 25.8), (6500, 10.7), (6513, 20.3), (6527, 7.7), (6538, 24.4), (6551, 16.9),
    (6562, 29.2), (6573, 16.2), (6581, 5.6), (6594, 2.2), (6610, 7.0), (6621, 2.2), (6632, 8.7),
    (6646, 0.8), (6659, 3.2), (6673, -1.2), (6686, 2.9), (6700, 1.5), (6713, 9.7), (6727, 15.2),
    (6740, 5.6), (6754, 16.2), (6767, 4.6), (6781, 9.4), (6794, 0.2), (6808, 10.7), (6821, 0.2),
    (6832, 13.5), (6843, 1.2), (6853, 15.2), (6864, 4.6), (6878, 17.9), (6889, 6.6), (6902, 17.9),
    (6913, 3.6), (6929, 16.2), (6940, 8.4), (6951, 16.9), (6964, 6.6), (6983, 14.8), (6994, 1.2),
    (7005, 10.7), (7018, 5.6), (7032, 7.3), (7045, 6.6), (7059, 3.6), (7069, 15.2), (7080, 8.4),
    (7091, 18.6), (7102, 8.4), (7115, 11.8), (7126, 3.9), (7140, 14.5), (7153, 6.0), (7167, 10.7),
    (7177, 1.5), (7188, 8.0), (7199, 0.2), (7210, 7.7), (7223, 0.2), (7234, 13.5), (7248, 4.9),
    (7258, 20.3), (7272, 11.8), (7283, 23.0), (7294, 12.1), (7304, 20.3), (7318, 11.4), (7329, 15.9),
    (7345, 10.1), (7361, 15.5), (7366, 9.7), (7377, 19.3), (7391, 12.1), (7404, 17.2), (7418, 11.1),
    (7431, 15.5), (7447, 13.1), (7461, 16.5), (7474, 12.8), (7491, 11.8), (7507, 10.1), (7518, 9.0),
    (7531, 8.0), (7545, 6.6), (7555, 7.7), (7569, 13.8), (7582, 2.5), (7593, 10.1), (7604, 16.9),
    (7618, 24.1), (7631, 9.7), (7642, 27.8), (7653, 17.6), (7663, 25.8), (7677, 10.4), (7690, 20.0),
    (7704, 9.7), (7715, 25.1), (7728, 14.5), (7742, 24.4), (7755, 11.4), (7769, 22.4), (7782, 10.4),
    (7793, 6.0), (7807, 16.9), (7820, 7.0), (7831, 21.3), (7844, 13.1), (7855, 24.1), (7869, 13.1),
    (7882, 20.3), (7896, 10.7), (7906, 23.0), (7920, 10.4), (7933, 23.7), (7947, 16.2), (7955, 27.5),
    (7969, 16.2), (7982, 27.5), (7996, 15.5), (8009, 21.0), (8023, 13.5), (8036, 21.7), (8050, 14.8),
    (8063, 6.3), (8077, 20.0), (8090, 9.4), (8104, 13.1), (8112, 4.9), (8125, 13.8), (8139, 6.6),
    (8149, 17.9), (8163, 9.7), (8176, 16.2), (8190, 10.4), (8203, 14.2), (8214, 8.4), (8225, 13.1),
    (8239, 9.0), (8247, 19.3), (8257, 10.4), (8268, 24.1), (8282, 12.1), (8293, 16.5), (8306, 12.8),
    (8320, 14.5), (8333, 17.6), (8347, 15.2), (8360, 17.9), (8374, 15.5), (8387, 21.0), (8401, 16.5),
    (8414, 18.9), (8428, 20.6), (8441, 17.2), (8455, 23.4), (8468, 17.2), (8482, 24.4), (8495, 17.6),
    (8503, 23.7), (8517, 17.2), (8527, 25.8), (8541, 17.6), (8554, 25.1), (8568, 16.5), (8581, 22.7),
    (8592, 18.6), (8603, 27.5), (8617, 19.6), (8627, 27.8), (8638, 20.0), (8649, 27.1), (8662, 20.6),
    (8676, 18.3), (8687, 13.1), (8700, 24.4), (8711, 14.8),
]

panel_names = ["soilt", "grav.soil.water", "uc.wood.temp", "mc.wood.temp"]
soilt_ticks = [0, 5, 10, 15, 20]
grav_ticks = [65, 66, 67, 68, 69]
wood_ticks = [-20, -10, 0, 10, 20, 30]
wood_tick_labels = ["\u221220", "", "0", "10", "20", "30"]
time_ticks = [0, 2000, 4000, 6000, 8000]


def separar(pares):
    arr = np.array(pares, dtype=float)
    return arr[:, 0], arr[:, 1]


# ---------------------------------------------------------------------------
# Figura
# ---------------------------------------------------------------------------

W, H = 1286, 1175
fig = plt.figure(figsize=(W / 100, H / 100), dpi=100)
axes = fig.subplots(4, 1, sharex=True, gridspec_kw={"hspace": 0})
fig.subplots_adjust(left=113 / W, right=1274 / W, top=1 - 7 / H, bottom=1 - 1072 / H)

cor = "#0000FF"
lw = 1.5
t, v = separar(soilt)
axes[0].plot(t, v, color=cor, lw=lw)
axes[1].plot(grav_time, grav_value, color=cor, lw=lw, drawstyle="steps-post")
t, v = separar(uc_wood)
axes[2].plot(t, v, color=cor, lw=lw)
t, v = separar(mc_wood)
axes[3].plot(t, v, color=cor, lw=lw)

ticks = [soilt_ticks, grav_ticks, wood_ticks, wood_ticks]
for i, ax in enumerate(axes):
    ax.margins(y=0.04)
    ax.set_yticks(ticks[i])
    if i >= 2:
        ax.set_yticklabels(wood_tick_labels)
    ax.tick_params(axis="y", direction="out", length=9.5, width=1.0, labelsize=15, pad=9)
    for lbl in ax.get_yticklabels():
        lbl.set_rotation(90)
        lbl.set_va("center")
    for sp in ax.spines.values():
        sp.set_linewidth(1.0)
    if i < 3:
        ax.tick_params(axis="x", bottom=False, labelbottom=False)
    fig.text(35 / W, 0.5 * (ax.get_position().y0 + ax.get_position().y1), panel_names[i],
             rotation=90, rotation_mode="anchor", ha="center", va="baseline", fontsize=22)

axes[3].set_xlim(-348, 9052)
axes[3].set_xticks(time_ticks)
axes[3].tick_params(axis="x", direction="out", length=9.5, width=1.0, labelsize=15, pad=12)
fig.text(693.5 / W, 1 - 1169 / H, "Time", ha="center", va="baseline", fontsize=22)

fig.savefig("out.png", dpi=100)
